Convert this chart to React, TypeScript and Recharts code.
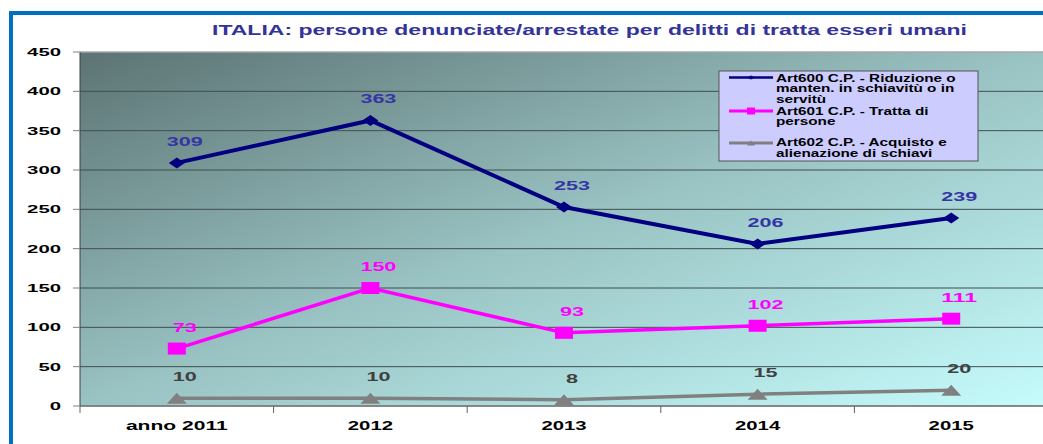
import React from "react";
import { LineChart, Line, XAxis, YAxis, CartesianGrid, LabelList } from "recharts";

const categories = ["anno 2011", "2012", "2013", "2014", "2015"];
const art600 = [309, 363, 253, 206, 239];
const art601 = [73, 150, 93, 102, 111];
const art602 = [10, 10, 8, 15, 20];
const yTicks = [0, 50, 100, 150, 200, 250, 300, 350, 400, 450];
const xTicks = [0, 0.5, 1, 1.5, 2, 2.5, 3, 3.5, 4, 4.5, 5];
const titleText = "ITALIA: persone denunciate/arrestate per delitti di tratta esseri umani";
const seriesNames = [
  "Art600 C.P. - Riduzione o manten. in schiavitù o in servitù",
  "Art601 C.P. - Tratta di persone",
  "Art602 C.P. - Acquisto e alienazione di schiavi",
];
const legendLines = [
  ["Art600 C.P. - Riduzione o", "manten. in schiavitù o in", "servitù"],
  ["Art601 C.P. - Tratta di", "persone"],
  ["Art602 C.P. - Acquisto e", "alienazione di schiavi"],
];

const data = categories.map((c, i) => ({
  cat: c,
  pos: i + 0.5,
  a600: art600[i],
  a601: art601[i],
  a602: art602[i],
}));

const FONT = "'Liberation Sans', Arial, sans-serif";
const NAVY = "#000080";
const MAGENTA = "#FF00FF";
const GRAY = "#808080";

const YTick = (props: any) => {
  const { x, y, payload } = props;
  const s = String(payload.value);
  return (
    <text x={x} y={y} dy={4} textAnchor="end" fontFamily={FONT} fontWeight="bold" fontSize={11.5}
      fill="#000" textLength={s.length * 11.3} lengthAdjust="spacingAndGlyphs">{s}</text>
  );
};

const XTick = (props: any) => {
  const { x, y, payload } = props;
  const v = payload.value as number;
  if (Number.isInteger(v)) {
    return <line x1={x} y1={y} x2={x} y2={y + 7} stroke="#606060" strokeWidth={1} />;
  }
  const s = categories[Math.floor(v)];
  return (
    <text x={x} y={y + 23.5} textAnchor="middle" fontFamily={FONT} fontWeight="bold" fontSize={12.5}
      fill="#000" textLength={s.length * 11.3} lengthAdjust="spacingAndGlyphs">{s}</text>
  );
};

const makeLabel = (color: string) => (props: any) => {
  const { x, y, value } = props;
  const s = String(value);
  return (
    <text x={x + 8} y={y - 17} textAnchor="middle" fontFamily={FONT} fontWeight="bold" fontSize={13}
      fill={color} textLength={s.length * 12} lengthAdjust="spacingAndGlyphs">{s}</text>
  );
};

const Diamond = (p: any) => {
  const { cx, cy, index } = p;
  return <polygon key={"d" + index} points={`${cx - 8},${cy} ${cx},${cy - 5.5} ${cx + 8},${cy} ${cx},${cy + 5.5}`} fill={NAVY} />;
};
const Square = (p: any) => {
  const { cx, cy, index } = p;
  return <rect key={"s" + index} x={cx - 9} y={cy - 6} width={18} height={12} fill={MAGENTA} />;
};
const Triangle = (p: any) => {
  const { cx, cy, index } = p;
  return <polygon key={"t" + index} points={`${cx - 10},${cy + 5.5} ${cx},${cy - 5.5} ${cx + 10},${cy + 5.5}`} fill={GRAY} />;
};

const legendBaselines = [[11.5, 22.3, 32.5], [44.5, 54.8], [75.8, 86.5]];
const legendSymbolY = [7.5, 41, 73];
const legendColors = [NAVY, MAGENTA, GRAY];

const LegendBox = () => (
  <svg width={262} height={94} style={{ position: "absolute", left: 718, top: 70 }}>
    <rect x={1} y={1} width={259} height={90} fill="#CCCCFF" stroke="#555" strokeWidth={1} />
    {legendLines.map((lines, i) => {
      const sy = legendSymbolY[i];
      const col = legendColors[i];
      return (
        <g key={i}>
          <line x1={11} y1={sy} x2={55} y2={sy} stroke={col} strokeWidth={i === 0 ? 2.5 : 3} />
          {i === 0 && <polygon points={`${29},${sy} ${33},${sy - 2} ${37},${sy} ${33},${sy + 2}`} fill={col} />}
          {i === 1 && <rect x={29} y={sy - 3.5} width={8} height={7} fill={col} />}
          {i === 2 && <polygon points={`${29},${sy + 2.5} ${33},${sy - 2.5} ${37},${sy + 2.5}`} fill={col} />}
          {lines.map((t, j) => (
            <text key={j} transform={`translate(58,${legendBaselines[i][j]}) scale(1.53,1)`} x={0} y={0}
              fontFamily={FONT} fontWeight="bold" fontSize={10} fill="#000">{t}</text>
          ))}
        </g>
      );
    })}
  </svg>
);

const GridLine = (props: any) => {
  const { x1, x2, y1, y2, index } = props;
  const isTop = y1 < 56;
  return <line key={"g" + index} x1={x1} x2={x2} y1={y1} y2={y2} stroke={isTop ? "#a8a8a8" : "#3f4f4f"} strokeWidth={isTop ? 1.5 : 1} />;
};

export default function App() {
  return (
    <div style={{ position: "absolute", left: 0, top: 0, width: 1043, height: 444, overflow: "hidden", background: "#fff" }}>
      <LineChart width={1060} height={444} data={data} margin={{ top: 52, right: 12, bottom: 0, left: 0 }}>
        <defs>
          <linearGradient id="plotBg" x1="0" y1="0" x2="1" y2="1">
            <stop offset="0" stopColor="#5C7373" />
            <stop offset="0.5" stopColor="#9AC3C3" />
            <stop offset="1" stopColor="#C6FCFC" />
          </linearGradient>
        </defs>
        <CartesianGrid vertical={false} fill="url(#plotBg)" fillOpacity={1} horizontal={GridLine} />
        <XAxis type="number" dataKey="pos" domain={[0, 5]} ticks={xTicks} interval={0} tickLine={false}
          tickSize={0} tickMargin={0} height={38} axisLine={{ stroke: "#808080", strokeWidth: 1.5 }} tick={<XTick />} />
        <YAxis width={80} domain={[0, 450]} ticks={yTicks} interval={0} tickSize={7} tickMargin={12}
          axisLine={{ stroke: "#404040", strokeWidth: 1 }} tickLine={{ stroke: "#808080" }} tick={<YTick />} />
        <Line name={seriesNames[2]} type="linear" dataKey="a602" stroke={GRAY} strokeWidth={3.5} dot={Triangle}
          activeDot={false} isAnimationActive={false}>
          <LabelList dataKey="a602" content={makeLabel("#404040")} />
        </Line>
        <Line name={seriesNames[1]} type="linear" dataKey="a601" stroke={MAGENTA} strokeWidth={3.5} dot={Square}
          activeDot={false} isAnimationActive={false}>
          <LabelList dataKey="a601" content={makeLabel(MAGENTA)} />
        </Line>
        <Line name={seriesNames[0]} type="linear" dataKey="a600" stroke={NAVY} strokeWidth={4} dot={Diamond}
          activeDot={false} isAnimationActive={false}>
          <LabelList dataKey="a600" content={makeLabel("#3535A5")} />
        </Line>
      </LineChart>
      <LegendBox />
      <svg width={1043} height={50} style={{ position: "absolute", left: 0, top: 0 }}>
        <text x={212} y={34.5} fontFamily={FONT} fontWeight="bold" fontSize={15} fill="#333399"
          textLength={755} lengthAdjust="spacingAndGlyphs">{titleText}</text>
      </svg>
      <div style={{ position: "absolute", left: 9, top: 11, width: 1034, height: 4, background: "#0070C0" }} />
      <div style={{ position: "absolute", left: 9, top: 11, width: 4, height: 433, background: "#0070C0" }} />
    </div>
  );
}
